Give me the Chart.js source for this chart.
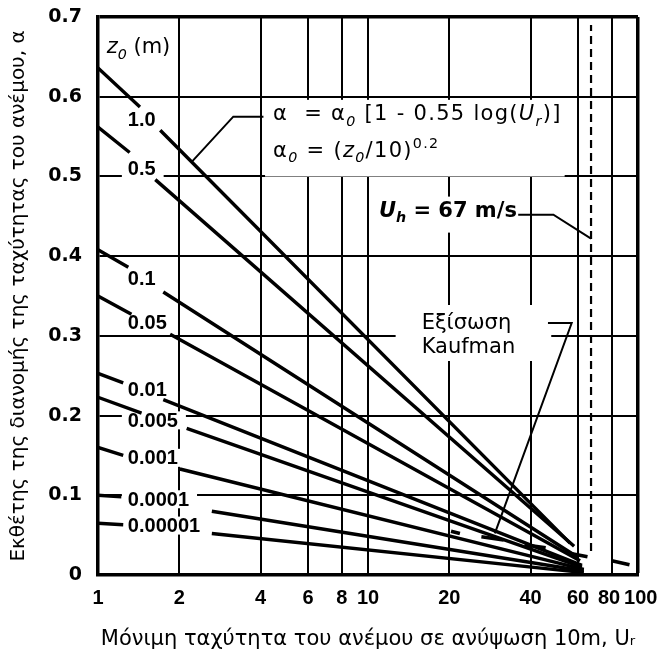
<!DOCTYPE html>
<html>
<head>
<meta charset="utf-8">
<script src="https://cdn.jsdelivr.net/npm/chart.js@4.4.1/dist/chart.umd.min.js"></script>
<style>
  html, body { margin: 0; padding: 0; background: #fff; }
</style>
</head>
<body>
<canvas id="chart" width="665" height="661"></canvas>
<script>
// axis ticks
const xTicks = [1, 2, 4, 6, 8, 10, 20, 40, 60, 80, 100];
const yTicks = [0, 0.1, 0.2, 0.3, 0.4, 0.5, 0.6, 0.7];

// one line per roughness length z0 (m)
const z0Names = ["1.0", "0.5", "0.1", "0.05", "0.01", "0.005", "0.001", "0.0001", "0.00001"];
const alphaAt1 = [0.636, 0.562, 0.408, 0.350, 0.253, 0.223, 0.160, 0.100, 0.065];
// where each line is broken for its label: [U, alpha] before and after the gap
const breakStart = [[1.43, 0.587], [1.31, 0.530], [1.295, 0.386], [1.33, 0.327], [1.24, 0.241],
  [1.45, 0.203], [1.24, 0.150], [1.22, 0.098], [1.24, 0.063]];
const breakEnd = [[1.70, 0.558], [1.63, 0.496], [1.745, 0.355], [1.85, 0.302], [1.745, 0.220],
  [2.13, 0.184], [2.01, 0.133], [2.64, 0.080], [2.64, 0.052]];
const lineEnd = [[56, 0.040], [58, 0.036], [60, 0.022], [61, 0.018], [62, 0.012],
  [62, 0.010], [63, 0.007], [63, 0.005], [63, 0.003]];
const labelU = 1.29;
const labelAlpha = [0.571, 0.510, 0.372, 0.317, 0.233, 0.194, 0.147, 0.095, 0.062];

// Kaufman equation, drawn as separate dashes
const kaufmanDashes = [
  [[20.3, 0.055], [21.9, 0.052]],
  [[26.3, 0.048], [31.8, 0.044]],
  [[38.0, 0.038], [45.5, 0.034]],
  [[54.5, 0.028], [65.0, 0.023]],
  [[80.0, 0.018], [93.0, 0.013]],
];

// U_h = 67 m/s marker
const uhSpeed = 67;
const uhRange = [0.03, 0.69];

// leader lines for the notes
const formulaLeader = [[4.1, 0.575], [3.17, 0.575], [2.22, 0.518]];
const uhLeader = [[36.0, 0.452], [48.6, 0.452], [67, 0.422]];
const kaufmanLeader = [[46.4, 0.316], [56.8, 0.316], [29.5, 0.0523]];

const pts = (arr) => arr.map(([x, y]) => ({ x, y }));

const datasets = z0Names.map((name, i) => ({
  label: "z0 = " + name,
  data: [
    { x: 1, y: alphaAt1[i] },
    { x: breakStart[i][0], y: breakStart[i][1] },
    { x: breakStart[i][0], y: null },
    { x: breakEnd[i][0], y: breakEnd[i][1] },
    { x: lineEnd[i][0], y: lineEnd[i][1] },
  ],
  borderColor: "#000",
  borderWidth: 3.4,
}));

const kaufData = [];
kaufmanDashes.forEach((d, i) => {
  if (i > 0) kaufData.push({ x: d[0][0], y: null });
  kaufData.push(...pts(d));
});
datasets.push({ label: "Kaufman", data: kaufData, borderColor: "#000", borderWidth: 3.6 });
datasets.push({
  label: "Uh",
  data: [{ x: uhSpeed, y: uhRange[0] }, { x: uhSpeed, y: uhRange[1] }],
  borderColor: "#000",
  borderWidth: 2.2,
  borderDash: [8, 5],
});
[formulaLeader, uhLeader, kaufmanLeader].forEach((l, i) => {
  datasets.push({ label: "leader" + i, data: pts(l), borderColor: "#000", borderWidth: 2 });
});

const SANS = "'DejaVu Sans', sans-serif";
const ARIAL = "'Liberation Sans', Arial, sans-serif";

function runFont(style, size) {
  return (style.includes("i") ? "italic " : "") + (style.includes("b") ? "bold " : "") + size + "px " + SANS;
}

function runsWidth(ctx, runs, size) {
  let w = 0;
  runs.forEach(([t, style, pos]) => {
    ctx.font = runFont(style || "", pos ? size * 0.68 : size);
    w += ctx.measureText(t).width;
  });
  return w;
}

function drawRuns(ctx, runs, x, y, size, align) {
  let cx = align === "right" ? x - runsWidth(ctx, runs, size) : x;
  ctx.textBaseline = "alphabetic";
  ctx.textAlign = "left";
  runs.forEach(([t, style, pos]) => {
    const s = pos ? size * 0.68 : size;
    ctx.font = runFont(style || "", s);
    const dy = pos === "sub" ? size * 0.28 : pos === "sup" ? -size * 0.42 : 0;
    ctx.fillText(t, cx, y + dy);
    cx += ctx.measureText(t).width;
  });
}

function whiteBox(ctx, x0, y0, x1, y1) {
  ctx.fillStyle = "#fff";
  ctx.fillRect(x0, y0, x1 - x0, y1 - y0);
  ctx.fillStyle = "#000";
}

const formulaLine1 = [["α"], ["  = "], ["α"], ["0", "i", "sub"], [" [1 - 0.55 log("], ["U", "i"], ["r", "i", "sub"], [")]"]];
const formulaLine2 = [["α"], ["0", "i", "sub"], [" = ("], ["z", "i"], ["0", "i", "sub"], ["/10)"], ["0.2", "", "sup"]];
const uhText = [["U", "bi"], ["h", "bi", "sub"], [" = 67 m/s", "b"]];
const z0Head = [["z", "i"], ["0", "i", "sub"], [" (m)"]];

const notes = {
  id: "notes",
  beforeDatasetsDraw(chart) {
    const { ctx } = chart;
    const xs = chart.scales.x, ys = chart.scales.y;
    const X = (v) => xs.getPixelForValue(v);
    const Y = (v) => ys.getPixelForValue(v);
    ctx.save();

    // z0 labels on the lines
    ctx.font = "bold 20px " + ARIAL;
    z0Names.forEach((name, i) => {
      const px = X(labelU), py = Y(labelAlpha[i]);
      const w = ctx.measureText(name).width;
      whiteBox(ctx, px - 6, py - 9, px + w + 8, py + 9);
      ctx.font = "bold 20px " + ARIAL;
      ctx.textBaseline = "middle";
      ctx.textAlign = "left";
      ctx.fillText(name, px, py + 1);
    });

    // column head
    drawRuns(ctx, z0Head, X(1.077), Y(0.6546), 21);

    // formula block, a little spaced out like the scan
    ctx.letterSpacing = "1.3px";
    const fx = X(4.45), fy1 = Y(0.571), fy2 = Y(0.525);
    const fw = runsWidth(ctx, formulaLine1, 21);
    whiteBox(ctx, fx - 8, fy1 - 20, fx + fw + 3, fy2 + 20);
    drawRuns(ctx, formulaLine1, fx, fy1, 21);
    drawRuns(ctx, formulaLine2, fx, fy2, 21);
    ctx.letterSpacing = "0px";

    // U_h note
    const ux = X(35.6), uy = Y(0.4496);
    const uw = runsWidth(ctx, uhText, 21);
    whiteBox(ctx, ux - uw - 4, uy - 20, ux + 4, uy + 16);
    drawRuns(ctx, uhText, ux, uy, 21, "right");

    // Kaufman note
    const kx = X(15.8), ky1 = Y(0.3086), ky2 = Y(0.2785);
    ctx.font = "21px " + SANS;
    const kw = Math.max(ctx.measureText("Εξίσωση").width, ctx.measureText("Kaufman").width);
    whiteBox(ctx, kx - 26, ky1 - 24, kx + kw + 36, ky2 + 8);
    ctx.font = "21px " + SANS;
    ctx.textAlign = "left";
    ctx.textBaseline = "alphabetic";
    ctx.fillText("Εξίσωση", kx, ky1);
    ctx.fillText("Kaufman", kx, ky2);

    ctx.restore();
  },
};

new Chart(document.getElementById("chart"), {
  type: "line",
  data: { datasets },
  plugins: [notes],
  options: {
    responsive: false,
    animation: false,
    layout: { padding: { top: 17, right: 27, left: 0, bottom: 0 } },
    elements: { point: { radius: 0 }, line: { tension: 0, borderCapStyle: "butt" } },
    plugins: { legend: { display: false }, tooltip: { enabled: false } },
    scales: {
      x: {
        type: "logarithmic",
        min: 1,
        max: 100,
        afterBuildTicks: (axis) => { axis.ticks = xTicks.map((v) => ({ value: v })); },
        afterFit: (scale) => {
          scale.height = 86;
          scale.paddingLeft = 0;
          scale.paddingRight = 0;
        },
        border: { display: true, color: "#000", width: 3.5 },
        grid: {
          color: "#000",
          lineWidth: (c) => (c.tick && c.tick.value === 100 ? 3.5 : 2),
          drawTicks: false,
        },
        ticks: {
          autoSkip: false,
          maxRotation: 0,
          minRotation: 0,
          padding: 11,
          color: "#000",
          font: { family: ARIAL, size: 20, weight: "bold" },
          callback: (v) => (v === 80 ? "80 " : v === 100 ? " 100" : String(v)),
        },
        title: {
          display: true,
          text: "Μόνιμη ταχύτητα του ανέμου σε ανύψωση 10m, Uᵣ",
          color: "#000",
          font: { family: SANS, size: 21 },
          padding: { top: 0, bottom: 9 },
        },
      },
      y: {
        min: 0,
        max: 0.7,
        afterBuildTicks: (axis) => { axis.ticks = yTicks.map((v) => ({ value: v })); },
        afterFit: (scale) => {
          scale.width = 98;
          scale.paddingTop = 0;
          scale.paddingBottom = 0;
        },
        border: { display: true, color: "#000", width: 3.5 },
        grid: {
          color: "#000",
          lineWidth: (c) => (c.tick && c.tick.value === 0.7 ? 3.5 : 2),
          drawTicks: false,
        },
        ticks: {
          padding: 16,
          color: "#000",
          font: { family: SANS, size: 19, weight: "bold" },
          callback: (v) => (v === 0 ? "0" : v.toFixed(1)),
        },
        title: {
          display: true,
          text: "Εκθέτης της διανομής της ταχύτητας του ανέμου, α",
          color: "#000",
          font: { family: SANS, size: 20 },
          padding: { top: 7, bottom: 0 },
        },
      },
    },
  },
});
</script>
</body>
</html>
